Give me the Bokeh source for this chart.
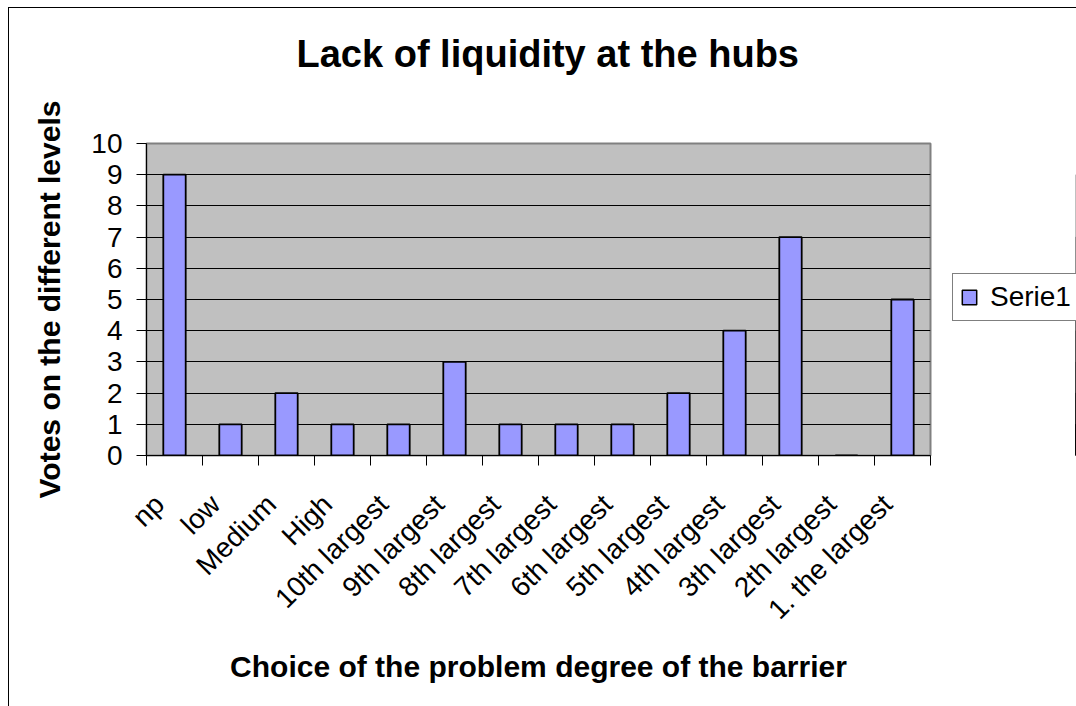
import math
from bokeh.plotting import figure
from bokeh.layouts import row
from bokeh.models import Range1d, FixedTicker, Legend, LegendItem, Title
from bokeh.embed import file_html
from bokeh.resources import INLINE

# ---- data ----
categories = ["np", "low", "Medium", "High", "10th largest", "9th largest",
              "8th largest", "7th largest", "6th largest", "5th largest",
              "4th largest", "3th largest", "2th largest", "1. the largest"]
votes = [9, 1, 2, 1, 1, 3, 1, 1, 1, 2, 4, 7, 0, 5]
y_ticks = list(range(0, 11))
series_name = "Serie1"
title_text = "Lack of liquidity at the hubs"
x_title = "Choice of the problem degree of the barrier"
y_title = "Votes on the different levels"

FONT = "Liberation Sans"
BAR_FILL = "#9999FF"
idx = list(range(len(categories)))
LABEL_SHIFT = 0.27  # rotated labels end slightly left of the category centre
label_pos = [i - LABEL_SHIFT for i in idx]

p = figure(frame_width=784, frame_height=312, output_backend="svg", toolbar_location=None,
           title=None,
           x_range=Range1d(-0.5, len(categories) - 0.5), y_range=Range1d(0, 10),
           min_border_left=137, min_border_right=22, min_border_top=135,
           min_border_bottom=251)
p.background_fill_color = "#C0C0C0"
p.border_fill_color = "white"
p.outline_line_color = "#808080"
p.outline_line_width = 2

r = p.vbar(x=idx, top=votes, width=0.4, bottom=0, fill_color=BAR_FILL,
           line_color="black", line_width=1.8)

# title: a blank spacer title next to the frame, then the real title above it
p.add_layout(Title(text=" ", text_font_size="1px", standoff=66), "above")
p.add_layout(Title(text=title_text, align="left", offset=150, standoff=0,
                   text_font=FONT, text_font_size="38px", text_font_style="bold",
                   text_color="black"), "above")

# grid
p.xgrid.grid_line_color = None
p.ygrid.grid_line_color = "black"
p.ygrid.grid_line_width = 1

# y axis
p.yaxis.ticker = FixedTicker(ticks=y_ticks)
p.yaxis.axis_line_color = "black"
p.yaxis.major_tick_line_color = "black"
p.yaxis.major_tick_out = 10
p.yaxis.major_tick_in = 0
p.yaxis.minor_tick_line_color = None
p.yaxis.major_label_text_font = FONT
p.yaxis.major_label_text_font_size = "28px"
p.yaxis.major_label_text_color = "black"
p.yaxis.major_label_standoff = 14
p.yaxis.axis_label = y_title
p.yaxis.axis_label_text_font = FONT
p.yaxis.axis_label_text_font_size = "30px"
p.yaxis.axis_label_text_font_style = "bold"
p.yaxis.axis_label_text_color = "black"
p.yaxis.axis_label_standoff = 22

# x axis
p.xaxis.ticker = FixedTicker(ticks=label_pos,
                             minor_ticks=[i - 0.5 for i in range(len(categories) + 1)])
p.xaxis.major_label_overrides = {pos: c for pos, c in zip(label_pos, categories)}
p.xaxis.major_label_orientation = math.pi / 4
p.xaxis.axis_line_color = "black"
p.xaxis.major_tick_line_color = None
p.xaxis.major_tick_out = 10
p.xaxis.major_tick_in = 0
p.xaxis.minor_tick_line_color = "black"
p.xaxis.minor_tick_out = 10
p.xaxis.minor_tick_in = 0
p.xaxis.major_label_text_font = FONT
p.xaxis.major_label_text_font_size = "28px"
p.xaxis.major_label_text_color = "black"
p.xaxis.major_label_standoff = 34
p.xaxis.axis_label = x_title
p.xaxis.axis_label_text_font = FONT
p.xaxis.axis_label_text_font_size = "30px"
p.xaxis.axis_label_text_font_style = "bold"
p.xaxis.axis_label_text_color = "black"
p.xaxis.axis_label_standoff = 11

# ---- legend panel (separate figure to the right of the chart; its frame is
# aligned with the chart's frame by the row layout). The series is drawn there
# outside the visible range so that only its legend entry shows. ----
p2 = figure(width=124, height=698, output_backend="svg", toolbar_location=None,
            title=None, min_border=0, x_range=Range1d(-100, -99), y_range=Range1d(0, 10))
p2.axis.visible = False
p2.grid.visible = False
p2.outline_line_color = None
p2.background_fill_color = "white"
p2.border_fill_color = "white"
r2 = p2.vbar(x=idx, top=votes, width=0.4, bottom=0, fill_color=BAR_FILL,
             line_color="black", line_width=1.5)

legend = Legend(items=[LegendItem(label=series_name, renderers=[r2])],
                location=(0, 134), orientation="vertical")
legend.label_text_font = FONT
legend.label_text_font_size = "28px"
legend.label_text_color = "black"
legend.border_line_color = "black"
legend.border_line_width = 1
legend.background_fill_color = "white"
legend.background_fill_alpha = 1
legend.glyph_width = 18
legend.glyph_height = 18
legend.label_standoff = 12
legend.padding = 7
legend.margin = 0
legend.spacing = 0
p2.add_layout(legend, "center")

layout = row(p, p2, spacing=0)
layout.styles = {"margin-left": "8px", "margin-top": "7px",
                 "border-left": "1px solid #000", "border-top": "1px solid #000"}

open("out.html", "w").write(file_html(layout, INLINE))
